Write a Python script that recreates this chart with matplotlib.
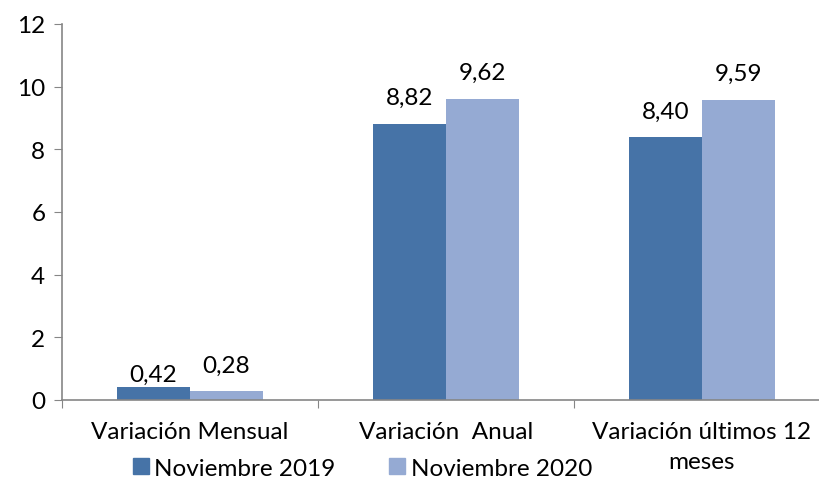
import numpy as np
import matplotlib
matplotlib.use("Agg")
from matplotlib import pyplot as plt
from matplotlib.lines import Line2D

# data
categories = ["Variación Mensual", "Variación  Anual", "Variación últimos 12\nmeses"]
series_names = ["Noviembre 2019", "Noviembre 2020"]
nov_2019 = [0.42, 8.82, 8.40]
nov_2020 = [0.28, 9.62, 9.59]
colors = ["#4673A7", "#95AAD3"]

plt.rcParams['font.family'] = ['Lato', 'DejaVu Sans']
fs = 17.5

fig = plt.figure(figsize=(8.2, 4.85), dpi=100)
ax = fig.add_axes([62 / 820, 1 - 401 / 485, 768 / 820, 376 / 485])

x = np.arange(len(categories))
w = 0.285
values = [nov_2019, nov_2020]
# label gap above each bar (points); the first label sits lower in the original
label_gap = [[4, 14, 14], [14, 14, 14]]
for i, (vals, name) in enumerate(zip(values, series_names)):
    pos = x + (i - 0.5) * w
    ax.bar(pos, vals, width=w, color=colors[i], label=name, zorder=2)
    for p, v, g in zip(pos, vals, label_gap[i]):
        ax.annotate(f"{v:.2f}".replace(".", ","), (p, v), xytext=(0, g),
                    textcoords="offset points", ha="center", va="baseline",
                    fontsize=fs, color="#000000")

ax.set_xlim(-0.5, len(categories) - 0.5)
ax.set_ylim(0, 12)
ax.set_yticks(range(0, 13, 2))
ax.tick_params(axis="y", labelsize=fs, length=6, color="#868686", pad=6)

# category labels between tick marks at group boundaries
ax.set_xticks(np.arange(-0.5, len(categories) + 0.5, 1))
ax.set_xticklabels([])
ax.tick_params(axis="x", length=6, color="#868686")
ax.set_xticks(x, minor=True)
ax.set_xticklabels(categories, minor=True, fontsize=fs, linespacing=1.55)
ax.tick_params(axis="x", which="minor", length=0, pad=15)

for s in ["top", "right"]:
    ax.spines[s].set_visible(False)
for s in ["left", "bottom"]:
    ax.spines[s].set_color("#868686")
    ax.spines[s].set_linewidth(1.2)

handles = [Line2D([], [], marker="s", linestyle="none", markersize=11,
                  markerfacecolor=c, markeredgecolor=c) for c in colors]
fig.legend(handles, series_names, loc="center", bbox_to_anchor=(361 / 820, 1 - 469 / 485),
           ncol=2, frameon=False, fontsize=fs, handletextpad=0.1, columnspacing=2.1,
           handlelength=0.9, borderpad=0, borderaxespad=0)

fig.savefig("out.png", dpi=100)
